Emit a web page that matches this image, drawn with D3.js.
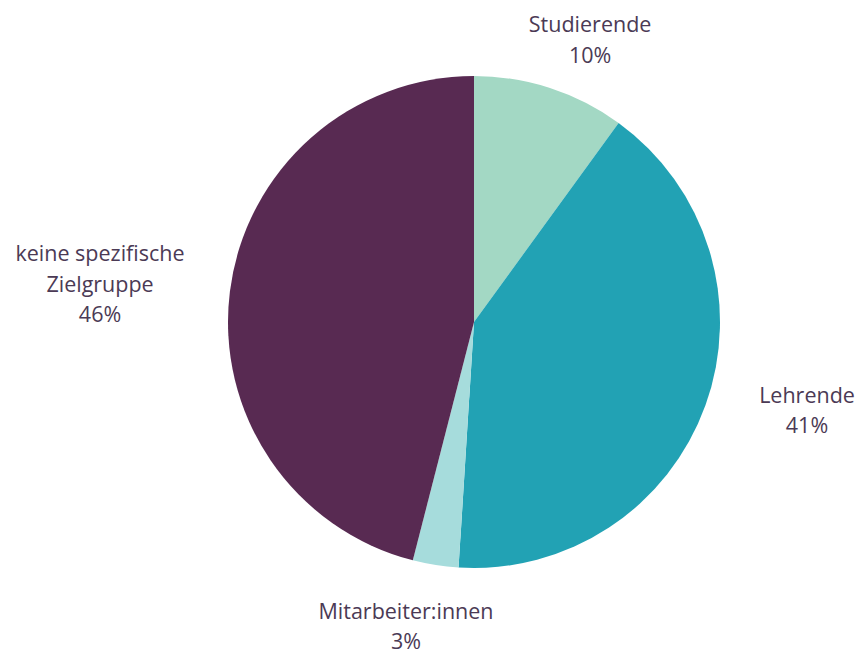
<!DOCTYPE html>
<html>
<head>
<meta charset="utf-8">
<script src="https://cdn.jsdelivr.net/npm/d3@7"></script>
<style>
  body { margin: 0; background: #fff; }
  text { font-family: 'Open Sans', sans-serif; fill: #4b3a55; }
</style>
</head>
<body>
<div id="chart"></div>
<script>
// Zielgruppen-Anteile (Uhrzeigersinn ab 12 Uhr)
const categories = ['Studierende', 'Lehrende', 'Mitarbeiter:innen', 'keine spezifische Zielgruppe']
const values = [10, 41, 3, 46]
const labelLines = [['Studierende'], ['Lehrende'], ['Mitarbeiter:innen'], ['keine spezifische', 'Zielgruppe']]
const colors = ['#a3d8c4', '#22a2b4', '#a6dcdc', '#582a52']

const width = 856
const height = 655
const cx = 474
const cy = 322
const radius = 246
// Abstand und Winkelkorrektur der Beschriftung je Segment
const labelRadius = [304.5, 344.7, 312.5, 375.8]
const labelShift = [0.077, -0.0845, 0.0623, -0.027]
const lineHeight = 30.5

const svg = d3.select('#chart')
  .append('svg')
  .attr('width', width)
  .attr('height', height)

const pie = d3.pie().sort(null).value(d => d)
const arcs = pie(values)
const arc = d3.arc().innerRadius(0).outerRadius(radius)

const g = svg.append('g').attr('transform', `translate(${cx},${cy})`)

g.selectAll('path')
  .data(arcs)
  .enter()
  .append('path')
  .attr('d', arc)
  .style('fill', (d, i) => colors[i])

const labels = g.selectAll('g.label')
  .data(arcs)
  .enter()
  .append('g')
  .attr('class', 'label')
  .attr('transform', (d, i) => {
    const a = (d.startAngle + d.endAngle) / 2 + labelShift[i]
    const r = labelRadius[i]
    return `translate(${r * Math.sin(a)},${-r * Math.cos(a)})`
  })

labels.each(function (d, i) {
  const lines = labelLines[i].concat([values[i] + '%'])
  const off = -(lines.length - 1) * lineHeight / 2
  d3.select(this).selectAll('text')
    .data(lines)
    .enter()
    .append('text')
    .attr('text-anchor', 'middle')
    .attr('y', (t, k) => off + k * lineHeight + 7)
    .style('font-size', '21.5px')
    .text(t => t)
})
</script>
</body>
</html>
